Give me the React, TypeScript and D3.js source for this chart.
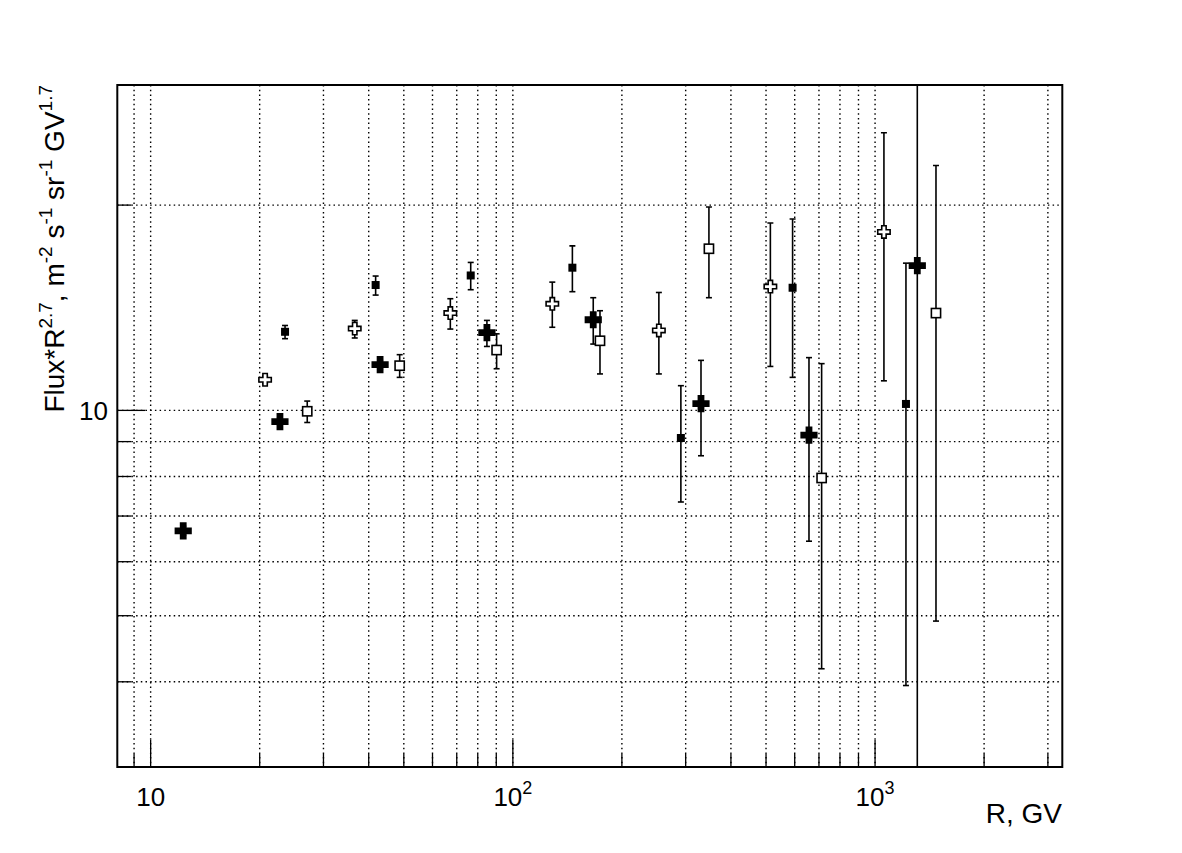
import React from "react";
import * as d3 from "d3";

const X_DOMAIN = [8.09, 3288];
const Y_DOMAIN = [3, 30];
const X_GRID = [9, 10, 20, 30, 40, 50, 60, 70, 80, 90, 100, 200, 300, 400, 500, 600, 700, 800, 900, 1000, 2000, 3000];
const X_MAJOR = [10, 100, 1000];
const X_MAJOR_LABELS = [
  { base: "10", exp: "" },
  { base: "10", exp: "2" },
  { base: "10", exp: "3" },
];
const Y_GRID = [4, 5, 6, 7, 8, 9, 10, 20];
const Y_MAJOR = [10];
const Y_MAJOR_LABELS = ["10"];

// filled small squares
const fsX = [23.5, 41.8, 76.5, 146, 291, 592, 1217];
const fsY = [13.04, 15.27, 15.77, 16.19, 9.11, 15.13, 10.22];
const fsLo = [12.74, 14.76, 15.03, 14.93, 7.34, 11.18, 3.95];
const fsHi = [13.32, 15.74, 16.48, 17.43, 10.87, 19.08, 16.44];

// open crosses
const ocX = [20.7, 36.6, 67.2, 128.5, 253, 514, 1058];
const ocY = [11.09, 13.18, 13.89, 14.33, 13.1, 15.19, 18.27];
const ocLo = [10.95, 12.77, 13.16, 13.24, 11.31, 11.6, 11.05];
const ocHi = [11.23, 13.55, 14.58, 15.42, 14.89, 18.83, 25.53];

// filled crosses
const fcX = [12.3, 22.75, 43.0, 84.8, 166.7, 330.7, 657, 1308];
const fcY = [6.66, 9.63, 11.67, 13.0, 13.58, 10.23, 9.2, 16.3];
const fcLo = [6.56, 9.5, 11.5, 12.41, 12.51, 8.58, 6.43, 2.0];
const fcHi = [6.76, 9.76, 11.84, 13.55, 14.63, 11.84, 11.95, 40];

// open squares
const osX = [27.06, 48.7, 90.2, 174, 347.8, 712, 1473];
const osY = [9.97, 11.63, 12.26, 12.65, 17.26, 7.96, 13.89];
const osLo = [9.6, 11.18, 11.51, 11.31, 14.63, 4.18, 4.91];
const osHi = [10.32, 12.07, 12.95, 14.0, 19.87, 11.71, 22.86];

const W = 1182;
const H = 853;
const L = 117.3;
const R = 1062.3;
const T = 85;
const B = 767;
const FONT = "'Liberation Sans', Arial, Helvetica, sans-serif";

const x = d3.scaleLog().domain(X_DOMAIN).range([L, R]);
const y = d3.scaleLog().domain(Y_DOMAIN).range([B, T]);

function crossPath(cx: number, cy: number, a: number, t: number) {
  return `M${cx - t},${cy - a}H${cx + t}V${cy - t}H${cx + a}V${cy + t}H${cx + t}V${cy + a}H${cx - t}V${cy + t}H${cx - a}V${cy - t}H${cx - t}Z`;
}

function ErrorBars({ xs, ys, lo, hi }: { xs: number[]; ys: number[]; lo: number[]; hi: number[] }) {
  return (
    <g stroke="#000" strokeWidth={1.6} clipPath="url(#frameClip)">
      {xs.map((xv, i) => {
        const px = x(xv);
        const py1 = y(hi[i]);
        const py0 = y(lo[i]);
        return (
          <g key={i}>
            <line x1={px} x2={px} y1={py1} y2={py0} />
            <line x1={px - 3} x2={px + 3} y1={py1} y2={py1} />
            <line x1={px - 3} x2={px + 3} y1={py0} y2={py0} />
          </g>
        );
      })}
    </g>
  );
}

export default function App() {
  return (
    <div style={{ position: "absolute", left: 0, top: 0 }}>
      <svg width={W} height={H} style={{ display: "block", background: "#fff" }}>
        <defs>
          <clipPath id="frameClip">
            <rect x={L} y={T} width={R - L} height={B - T} />
          </clipPath>
        </defs>
        <rect x={0} y={0} width={W} height={H} fill="#fff" />
        {/* grid */}
        <g stroke="#000" strokeWidth={1.4} strokeDasharray="1.5,3.2">
          {X_GRID.map((v) => (
            <line key={"gx" + v} x1={x(v)} x2={x(v)} y1={T} y2={B} />
          ))}
          {Y_GRID.map((v) => (
            <line key={"gy" + v} x1={L} x2={R} y1={y(v)} y2={y(v)} />
          ))}
        </g>
        {/* ticks */}
        <g stroke="#000" strokeWidth={1.3}>
          {X_GRID.map((v) => {
            const len = X_MAJOR.includes(v) ? 27 : 13;
            return <line key={"tx" + v} x1={x(v)} x2={x(v)} y1={B} y2={B - len} />;
          })}
          {Y_GRID.map((v) => {
            const len = Y_MAJOR.includes(v) ? 28 : 14;
            return <line key={"ty" + v} x1={L} x2={L + len} y1={y(v)} y2={y(v)} />;
          })}
        </g>
        {/* frame */}
        <rect x={L} y={T} width={R - L} height={B - T} fill="none" stroke="#000" strokeWidth={2} />
        {/* labels */}
        <g fontFamily={FONT} fill="#000">
          {X_MAJOR.map((v, i) => (
            <text key={"lx" + v} x={x(v)} y={806} textAnchor="middle" fontSize={26}>
              {X_MAJOR_LABELS[i].base}
              {X_MAJOR_LABELS[i].exp && (
                <tspan fontSize={18} dy={-12}>
                  {X_MAJOR_LABELS[i].exp}
                </tspan>
              )}
            </text>
          ))}
          {Y_MAJOR.map((v, i) => (
            <text key={"ly" + v} x={108} y={y(v) + 9.5} textAnchor="end" fontSize={26}>
              {Y_MAJOR_LABELS[i]}
            </text>
          ))}
          <text x={1062} y={823} textAnchor="end" fontSize={28}>
            R, GV
          </text>
          <text transform="translate(63.5,85) rotate(-90)" textAnchor="end" fontSize={28}>
            Flux*R<tspan fontSize={19} dy={-12}>2.7</tspan>
            <tspan dy={12}>, m</tspan>
            <tspan fontSize={19} dy={-12}>-2</tspan>
            <tspan dy={12}> s</tspan>
            <tspan fontSize={19} dy={-12}>-1</tspan>
            <tspan dy={12}> sr</tspan>
            <tspan fontSize={19} dy={-12}>-1</tspan>
            <tspan dy={12}> GV</tspan>
            <tspan fontSize={19} dy={-12}>1.7</tspan>
          </text>
        </g>
        {/* error bars */}
        <ErrorBars xs={fsX} ys={fsY} lo={fsLo} hi={fsHi} />
        <ErrorBars xs={ocX} ys={ocY} lo={ocLo} hi={ocHi} />
        <ErrorBars xs={fcX} ys={fcY} lo={fcLo} hi={fcHi} />
        <ErrorBars xs={osX} ys={osY} lo={osLo} hi={osHi} />
        {/* markers */}
        <g>
          {fsX.map((v, i) => (
            <rect key={"fs" + i} x={x(v) - 4} y={y(fsY[i]) - 4} width={8} height={8} fill="#000" />
          ))}
          {osX.map((v, i) => (
            <rect key={"os" + i} x={x(v) - 4.6} y={y(osY[i]) - 4.6} width={9.2} height={9.2} fill="#fff" stroke="#000" strokeWidth={1.6} />
          ))}
          {ocX.map((v, i) => (
            <path key={"oc" + i} d={crossPath(x(v), y(ocY[i]), 6.2, 2.2)} fill="#fff" stroke="#000" strokeWidth={1.6} />
          ))}
          {fcX.map((v, i) => (
            <path key={"fc" + i} d={crossPath(x(v), y(fcY[i]), 8.6, 3.4)} fill="#000" />
          ))}
        </g>
      </svg>
    </div>
  );
}
